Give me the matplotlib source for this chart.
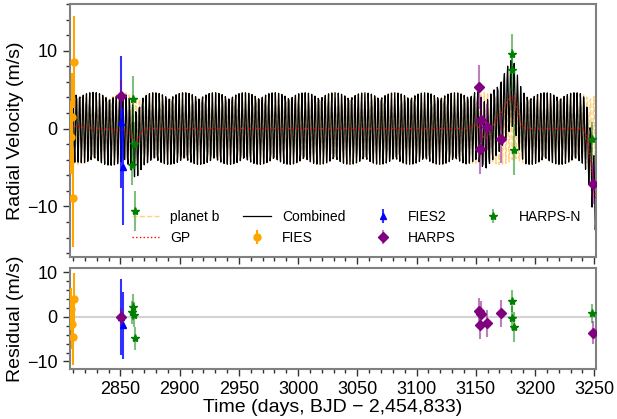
import numpy as np
import matplotlib
matplotlib.use('Agg')
import matplotlib.pyplot as plt
from matplotlib.ticker import MultipleLocator

plt.rcParams['font.family'] = ['Liberation Sans', 'DejaVu Sans']

# --- data ---
fies_t = [2808.3, 2809.2, 2810.0, 2810.8]
fies_rv = [-1.1, 1.5, -8.9, 8.5]
fies_err = [4.7, 5.6, 6.3, 5.9]
fies_res = [1.8, -1.6, -4.4, 4.0]

fies2_t = [2850.2, 2851.8]
fies2_rv = [0.8, -4.9]
fies2_err = [8.5, 7.5]
fies2_res = [0.0, -1.9]

harps_t = [2850.2, 3152.6, 3153.5, 3154.3, 3159.1, 3171.2, 3249.1]
harps_rv = [4.2, 5.3, -2.6, 1.1, 0.2, -1.4, -7.1]
harps_err = [2.0, 2.8, 3.2, 3.0, 3.0, 3.0, 2.6]
harps_res = [0.0, 1.4, -1.8, 0.6, -1.4, 0.8, -3.5]

harpsn_t = [2860.0, 2860.9, 2861.7, 2862.3, 3180.5, 3180.9, 3182.2, 3248.2]
harpsn_rv = [-4.7, 3.8, -2.0, -10.6, 7.5, 9.6, -2.7, -1.3]
harpsn_err = [2.5, 2.9, 2.8, 2.6, 2.7, 2.5, 3.3, 2.2]
harpsn_res = [1.0, 2.3, 0.5, -4.8, -0.3, 3.6, -2.3, 0.8]

# GP curve knots
gp_t = [2806.0, 2809.0, 2813.0, 2821.0, 2832.0, 2847.0, 2854.0, 2858.0, 2861.0,
        2863.0, 2866.0, 2869.0, 2875.0, 3128.0, 3142.0, 3147.0, 3151.0, 3156.0,
        3158.5, 3162.0, 3166.0, 3170.0, 3174.5, 3178.8, 3180.7, 3183.0, 3185.8,
        3188.6, 3192.3, 3239.3, 3242.1, 3244.9, 3247.7, 3249.7, 3251.5]
gp_v = [0.0, 0.05, 0.3, 0.1, 0.0, -0.2, -0.2, -0.65, -1.5,
        -1.9, -1.1, -0.2, 0.0, 0.0, 0.0, 0.3, 0.55, -1.0,
        -1.3, -0.2, 0.85, 1.7, 3.0, 4.1, 4.3, 3.6, 1.9,
        0.6, 0.0, 0.0, -0.4, -1.9, -4.9, -7.5, -9.0]

# planet b model
planet_K = 4.6
planet_P = 2.8
planet_t0 = 2806.5

t_start, t_end = 2807.0, 3251.5

t_mod = np.linspace(2806.0, 3252.0, 815)
planet = planet_K * np.sin(2 * np.pi * (t_mod - planet_t0) / planet_P)
gp = np.interp(t_mod, gp_t, gp_v)
combined = planet + gp

fig = plt.figure(figsize=(6.17, 4.19), dpi=100)
ax1 = fig.add_axes([69.5 / 617, 1 - 257 / 419, (596 - 69.5) / 617, (257 - 4) / 419])
ax2 = fig.add_axes([69.5 / 617, 1 - 369 / 419, (596 - 69.5) / 617, (369 - 268) / 419])

ax1.plot(t_mod, planet, '--', color='orange', alpha=0.5, lw=1, label='planet b', zorder=1)
ax1.plot(t_mod, gp, ':', color='red', lw=1, label='GP', zorder=3)
ax1.plot(t_mod, combined, '-', color='black', lw=0.9, label='Combined', zorder=2)

insts = [
    ('FIES', fies_t, fies_rv, fies_err, fies_res, 'orange', 'o', 5, 1.0),
    ('FIES2', fies2_t, fies2_rv, fies2_err, fies2_res, 'blue', '^', 5, 0.8),
    ('HARPS', harps_t, harps_rv, harps_err, harps_res, 'purple', 'D', 5, 0.5),
    ('HARPS-N', harpsn_t, harpsn_rv, harpsn_err, harpsn_res, 'green', '*', 6, 0.5),
]
for name, t, rv, err, res, c, m, ms, ea in insts:
    eb = ax1.errorbar(t, rv, yerr=err, fmt=m, color=c, ms=ms, elinewidth=1.5,
                      capsize=0, label=name, zorder=5)
    eb[2][0].set_alpha(ea)
    eb2 = ax2.errorbar(t, res, yerr=err, fmt=m, color=c, ms=ms, elinewidth=1.5,
                       capsize=0, zorder=5)
    eb2[2][0].set_alpha(ea)

ax2.axhline(0, color='lightgray', lw=1.5, zorder=0)

for ax in (ax1, ax2):
    ax.set_xlim(t_start, t_end)
    ax.xaxis.set_major_locator(MultipleLocator(50))
    ax.xaxis.set_minor_locator(MultipleLocator(10))
    ax.yaxis.set_major_locator(MultipleLocator(10))
    ax.yaxis.set_minor_locator(MultipleLocator(2))
    ax.tick_params(which='both', direction='out', top=False, right=False,
                   labelsize=13, color='#333333')
    ax.tick_params(which='major', length=5, width=1)
    ax.tick_params(which='minor', length=3, width=1)
    for s in ax.spines.values():
        s.set_color('gray')
        s.set_linewidth(1.5)

ax1.set_ylim(-16.5, 16)
ax2.set_ylim(-11.7, 11)
ax1.tick_params(labelbottom=False)

ax1.set_ylabel('Radial Velocity (m/s)', fontsize=14, labelpad=2)
ax2.set_ylabel('Residual (m/s)', fontsize=14, labelpad=2)
ax2.set_xlabel('Time (days, BJD \u2212 2,454,833)', fontsize=14, labelpad=1)

h, l = ax1.get_legend_handles_labels()
order = ['planet b', 'GP', 'Combined', 'FIES', 'FIES2', 'HARPS', 'HARPS-N']
hd = dict(zip(l, h))
ax1.legend([hd[k] for k in order], order, loc='lower right', ncol=4,
           frameon=False, fontsize=10, columnspacing=1.7,
           bbox_to_anchor=(0.995, 0.0))

fig.savefig('out.png', dpi=100)
